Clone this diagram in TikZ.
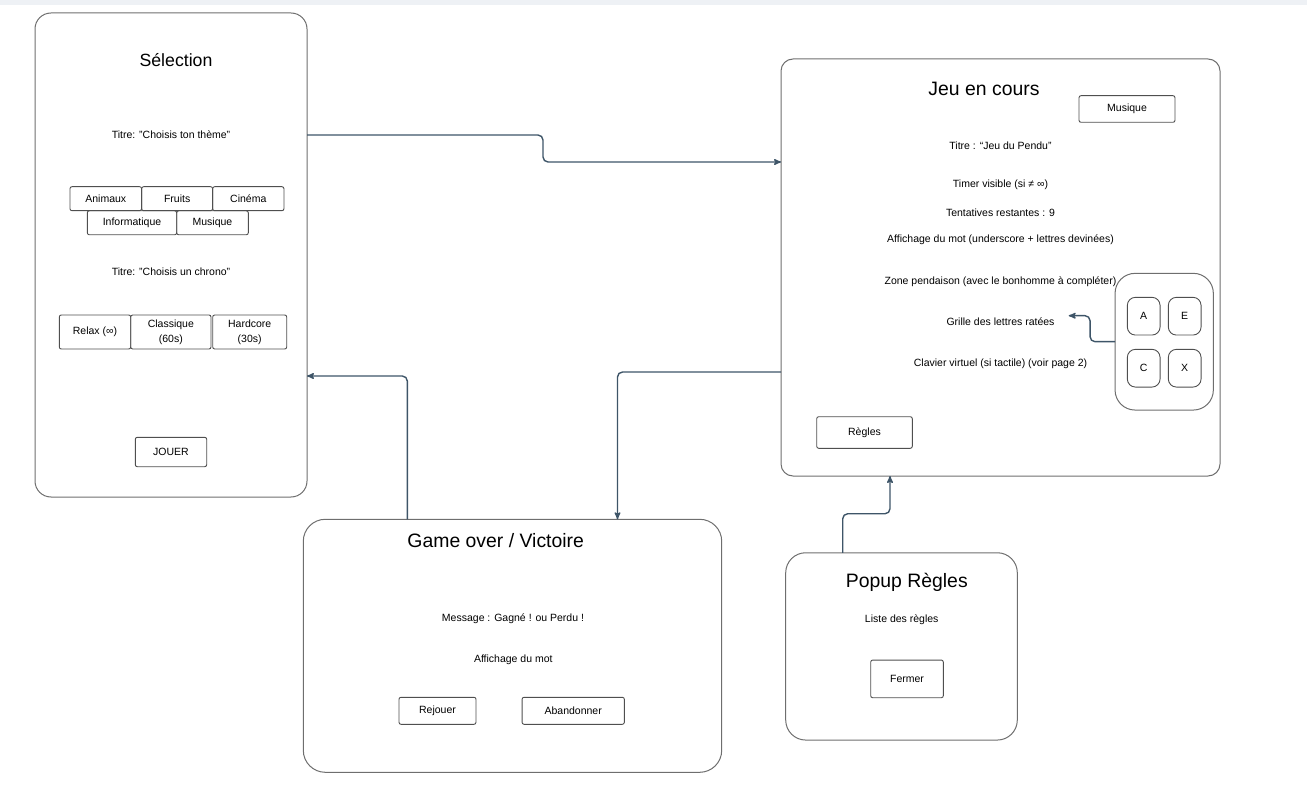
\documentclass[tikz,border=0pt]{standalone}
\usepackage{fontspec}
\setmainfont{Liberation Sans}
\usetikzlibrary{arrows,positioning,calc}

\definecolor{bordgris}{HTML}{6E6E6E}
\definecolor{boutgris}{HTML}{4F4F4F}
\definecolor{liencol}{HTML}{3E5568}
\definecolor{bande}{HTML}{EEF1F5}

\begin{document}
\begin{tikzpicture}[->, >=stealth', x=1pt, y=-1pt]

%====Stili schermi e bottoni================================================

	\tikzstyle{panel}=[draw=bordgris, line width=1pt, rounded corners=16pt, inner sep=0pt, outer sep=0pt]
	\tikzstyle{titre}=[font=\fontsize{19.4}{22}\selectfont, inner sep=0pt]
	\tikzstyle{texte}=[font=\fontsize{10.5}{15}\selectfont, align=center, inner sep=0pt]
	\tikzstyle{bouton}=[draw=boutgris, line width=0.9pt, rounded corners=2pt, font=\fontsize{10.5}{15}\selectfont, align=center, inner sep=0pt, outer sep=0pt]
	\tikzstyle{touche}=[bouton, rounded corners=8pt, minimum width=32.7pt, minimum height=37.7pt]
	\tikzstyle{lien}=[draw=liencol, line width=1.4pt, rounded corners=5pt]

	\useasboundingbox (0,0) rectangle (1307,794);
	\fill[-, bande] (0,0) rectangle (1307,5);

%====Schermo selezione======================================================
	\node[panel, minimum width=272pt, minimum height=484pt]	(sel)	at (171,255)	{};
	\node[titre, font=\fontsize{17.7}{20}\selectfont]	(tsel)	at (176,60)	{Sélection};
	\node[texte]	(t1)	at (171,135)	{Titre: "Choisis ton thème"};

	\node[bouton, minimum width=71.7pt, minimum height=24pt]	(anim)	at (105.8,198.7)	{Animaux};
	\node[bouton, minimum width=71pt, minimum height=24pt]	(fruits) [right=0pt of anim]	{Fruits};
	\node[bouton, minimum width=71.3pt, minimum height=24pt]	(cine) [right=0pt of fruits]	{Cinéma};
	\node[bouton, minimum width=89.4pt, minimum height=24pt]	(info)	at (132,222.8)	{Informatique};
	\node[bouton, minimum width=71.6pt, minimum height=24pt]	(musq) [right=0pt of info]	{Musique};

	\node[texte]	(t2)	at (171,271.5)	{Titre: "Choisis un chrono"};

	\node[bouton, minimum width=71.4pt, minimum height=34pt]	(relax)	at (95,332)	{Relax (∞)};
	\node[bouton, minimum width=80.3pt, minimum height=34pt]	(classq) [right=0pt of relax]	{Classique\\(60s)};
	\node[bouton, minimum width=74pt, minimum height=34pt]	(hardc) [right=1.7pt of classq]	{Hardcore\\(30s)};

	\node[bouton, minimum width=71.4pt, minimum height=29.4pt]	(jouer)	at (171,452)	{JOUER};

%====Schermo gioco==========================================================
	\node[panel, rounded corners=12pt, minimum width=439pt, minimum height=417pt]	(jeu)	at (1000.5,267.5)	{};
	\node[titre]	(tjeu)	at (984,89)	{Jeu en cours};
	\node[bouton, minimum width=96pt, minimum height=26.6pt]	(musj)	at (1127,109)	{Musique};

	\node[texte]	(tpendu)	at (1000.5,145.7)	{Titre : “Jeu du Pendu"};
	\node[texte]	(timer)	at (1000.5,185)	{Timer visible (si ≠ ∞)};
	\node[texte]	(tentat)	at (1000.5,212.7)	{Tentatives restantes : 9};
	\node[texte]	(affmot)	at (1000.5,240)	{Affichage du mot (underscore + lettres devinées)};
	\node[texte]	(zone)	at (1000.5,281.7)	{Zone pendaison (avec le bonhomme à compléter)};
	\node[texte]	(grille)	at (1000.5,321.7)	{Grille des lettres ratées};
	\node[texte]	(clavtx)	at (1000.5,363.3)	{Clavier virtuel (si tactile) (voir page 2)};

	\node[panel, rounded corners=20pt, minimum width=98.3pt, minimum height=136.7pt]	(clav)	at (1164.2,341.7)	{};
	\node[touche]	(ka)	at (1143.7,316.2)	{A};
	\node[touche]	(ke) [right=8.3pt of ka]	{E};
	\node[touche]	(kc) [below=14.3pt of ka]	{C};
	\node[touche]	(kx) [right=8.3pt of kc]	{X};

	\node[bouton, minimum width=95.6pt, minimum height=31.6pt]	(regl)	at (864.5,432.5)	{Règles};

%====Schermo fine partita===================================================
	\node[panel, rounded corners=22pt, minimum width=418.4pt, minimum height=253pt]	(go)	at (512.5,645.8)	{};
	\node[titre]	(tgo)	at (495.7,541)	{Game over / Victoire};
	\node[texte]	(msg)	at (513,619)	{Message : Gagné ! ou Perdu !};
	\node[texte]	(affgo)	at (513.3,660)	{Affichage du mot};
	\node[bouton, minimum width=77pt, minimum height=27pt]	(rej)	at (437.5,710.8)	{Rejouer};
	\node[bouton, minimum width=102.3pt, minimum height=27pt]	(aband)	at (573.2,710.8)	{Abandonner};

%====Popup regole===========================================================
	\node[panel, rounded corners=20pt, minimum width=231.6pt, minimum height=187.3pt]	(pop)	at (901.5,646.4)	{};
	\node[titre]	(tpop)	at (906.8,582)	{Popup Règles};
	\node[texte]	(liste)	at (901.7,619.3)	{Liste des règles};
	\node[bouton, minimum width=72.6pt, minimum height=37.7pt]	(ferm)	at (907,678.9)	{Fermer};

%====Collegamenti===========================================================
	\draw[lien]	(sel.east |- t1) -- ++(236,0) |- ($(jeu.north west)+(0,103)$);
	\draw[lien]	($(jeu.south west)+(0,-104)$) -| ($(go.north)+(105,0)$);
	\draw[lien]	($(go.north west)+(104,0)$) |- ($(sel.south east)+(0,-121)$);
	\draw[lien]	($(pop.north west)+(57,0)$) -- ++(0,-39) -| ($(jeu.south west)+(109,0)$);
	\draw[lien]	(clav.west) -| ++(-25,-26) -- ($(grille.east)+(14,-6)$);
\end{tikzpicture}
\end{document}
